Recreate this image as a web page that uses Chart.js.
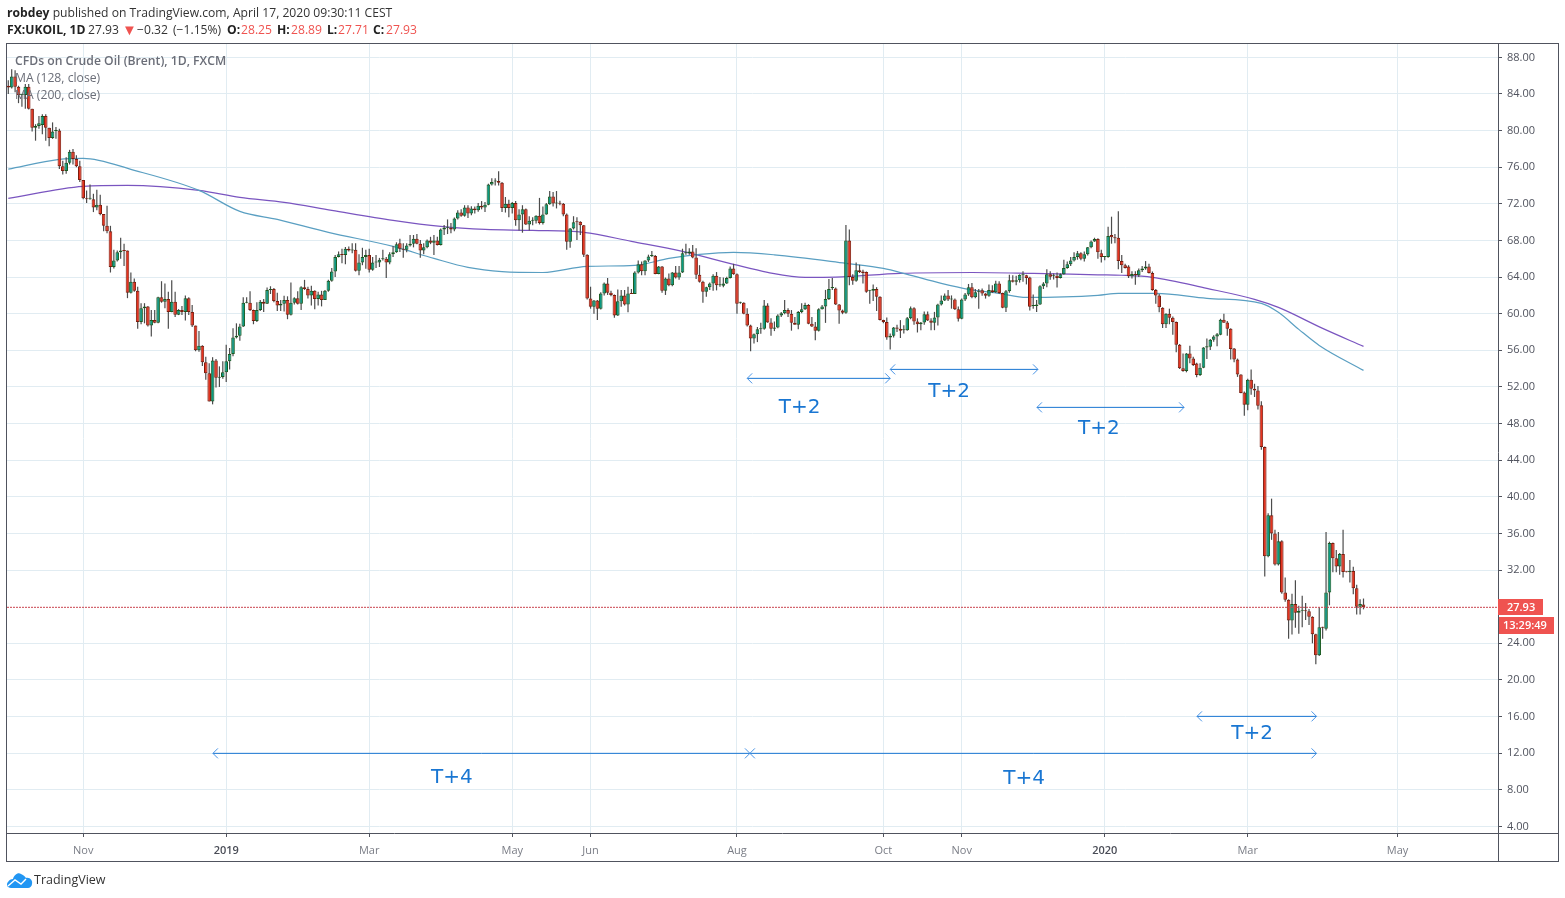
<!DOCTYPE html>
<html>
<head>
<meta charset="utf-8">
<title>UKOIL</title>
<script src="https://cdn.jsdelivr.net/npm/chart.js@4/dist/chart.umd.min.js"></script>
<style>
  html, body { margin: 0; padding: 0; background: #fff; width: 1565px; height: 898px; overflow: hidden; }
  #c { position: absolute; left: 0; top: 0; z-index: 2; }
  .txt { position: absolute; white-space: pre; font-family: "Open Sans", sans-serif; z-index: 3; }
  .head { font-size: 12.15px; color: #333; line-height: 17px; left: 7px; }
  .head b { color: #222; }
  .head span { position: absolute; top: 0; }
  .red { color: #ef5350; }
  .tri { color: #ef5350; font-size: 15px; }
  .leg { font-size: 12.2px; color: #6b6e78; left: 15px; line-height: 17px; }
  #brand { left: 34px; top: 871px; font-size: 12.5px; line-height: 18px; color: #333; }
  #logo { position: absolute; left: 6px; top: 871px; }
</style>
</head>
<body>
<div class="txt head" style="top:4px"><b>robdey</b> published on TradingView.com, April 17, 2020 09:30:11 CEST</div>
<div class="txt head" style="top:21px"><span style="left:0"><b>FX:UKOIL, 1D</b></span><span style="left:81px">27.93</span><span class="tri" style="left:115px">▼</span><span style="left:130px">−0.32</span><span style="left:166px">(−1.15%)</span><span style="left:220px"><b>O:</b></span><span class="red" style="left:234px">28.25</span><span style="left:270px"><b>H:</b></span><span class="red" style="left:284px">28.89</span><span style="left:320px"><b>L:</b></span><span class="red" style="left:331px">27.71</span><span style="left:366px"><b>C:</b></span><span class="red" style="left:379px">27.93</span></div>
<div class="txt leg" style="top:52px;font-weight:600">CFDs on Crude Oil (Brent), 1D, FXCM</div>
<div class="txt leg" style="top:69px">MA (128, close)</div>
<div class="txt leg" style="top:86px">MA (200, close)</div>
<svg id="logo" width="27" height="18" viewBox="0 0 27 18"><path d="M5 17 C1 17 0 13 2 11 C3 9 5 8 7 8 C8 4 12 1 15 3 C18 4 19 6 20 7 C24 6 27 10 26 13 C26 15 24 17 22 17 Z" fill="#2196f3"/><path d="M2 15 L9 9 L15 13 L20 8" fill="none" stroke="#fff" stroke-width="1.4"/></svg>
<div class="txt" id="brand">TradingView</div>
<canvas id="c" width="1565" height="898"></canvas>
<script>
const opens = [
  84.9,84.7,85.9,84.8,83.9,83.9,84.8,82.4,80.3,80.5,
  80.6,81.6,80.3,79.2,79.95,80,76.1,75.6,76.5,77.7,
  76.9,76.1,74.6,72.6,72.55,72.5,71.6,71.9,70.9,69.6,
  69,65.1,65.8,66.7,66.9,66.9,62.3,63.5,62.5,59.1,
  60.6,60.8,58.7,59.3,59,61.8,61.3,61.6,60.2,61.3,
  59.9,60.4,60.2,61.7,60.2,58.7,56,56.5,54.7,53.5,
  50.4,54.9,53,53.1,53.6,54.8,55.6,57.4,57.6,58.6,
  61.2,61.2,60.4,59.2,60.4,61.3,61.1,62.6,62.7,61.4,
  60.9,61.1,61.5,59.9,61.2,61.7,61.1,62.9,62.7,62,
  62.5,61.6,62.1,61.5,62.5,63.6,64.6,66.2,66.5,66.4,
  67.1,66.9,67,64.7,65.6,66.2,66.4,64.8,65.6,65.6,
  65.95,66,65.6,66.5,66.7,67.7,67.1,67,67.45,67.65,
  68.2,67.65,66.9,67.25,68,67.75,68,67.5,69.2,69.4,
  69.4,69.2,70.4,71.05,70.7,71.6,70.95,71.5,71.3,71.8,
  71.6,71.9,74.1,74.45,74.5,74.3,71.55,72,71.55,72.1,
  70.2,70.85,71.4,69.75,70.15,70.15,70.7,69.9,70.85,71.95,
  72.8,72.05,72.05,72,70.85,67.85,69.3,70.05,70.05,69.65,
  66.45,61.65,60.75,61.45,60.55,62.2,63.3,62.3,62.05,59.8,
  61.35,62,61,62.2,62.15,64.5,65.4,64.65,65.8,66.3,
  66.3,64.35,65.15,62.5,63.85,63.1,64.5,63.95,64.5,66.6,
  66.6,66.8,66.15,64.25,63.5,62.4,62.9,63.3,64.15,63.1,
  63.05,63.3,63.9,64.95,64.3,61.2,61.2,60,58.7,57.3,
  57.75,58.3,58.35,60.9,59.05,58.35,58.5,59.8,60.05,60.4,
  60,59,58.8,60.2,60.5,60.95,58.9,58.6,58.15,60.5,
  60.8,61.6,62.8,62.75,61,60.35,60.1,68,64,63.6,
  64.75,64.6,64.55,62.5,62.5,62.7,61.85,59.3,59.1,57.4,
  57.6,58.5,58.35,58.2,58.2,59.5,60.6,59.15,58.85,59.05,
  59.95,59.25,59,59.6,61,61.45,62,61.55,61.55,60.5,
  59.45,61.55,62.1,62.9,61.8,62.4,62.55,62.2,61.95,62.55,
  62.35,63.3,62.25,60.65,62.45,63.65,63.5,63.65,64.2,64.2,
  63.95,60.85,60.85,61,63,63.3,64.3,64.1,64.15,63.9,
  64.3,65,65.4,65.8,66.2,66.6,66,66.5,67.25,67.9,
  68.15,66.6,66.2,66.2,68.6,68.35,68.3,65.75,65.3,65.15,
  64.1,64.35,64.2,64.75,64.95,65.15,64.45,62.6,62,60.65,
  58.85,60,59.55,59.1,56.6,54.05,53.75,55.65,55.1,54.55,
  53.3,54.1,56.3,56.4,57.15,57.5,57.7,59.35,59.05,58.35,
  56.2,55,53.35,51.4,50.05,52.8,51.8,51.6,50,45.45,
  33.5,38,36,32.6,35.15,29.55,28.75,26.5,28.3,27.35,
  27.55,27.6,27.5,26.9,25,22.7,25.75,25.6,29.55,34.95,
  33.3,32.4,33.75,31.8,31.75,31.9,30,28,28.25
];
const highs = [
  85.5,86.7,86.6,84.9,84.0,85.1,85.1,82.4,80.7,81.6,
  81.8,81.8,80.3,80.9,80.4,80.2,76.7,77.1,77.9,78.0,
  77.3,76.7,74.6,73.45,74.1,73.1,73.55,73.0,70.9,71.8,
  69.6,67,66.9,68.3,67.65,66.9,64.5,63.85,62.95,61.15,
  61.15,60.85,60.4,60.4,61.85,63.55,63.3,62.4,63.65,62.4,
  60.5,60.85,62,61.8,60.95,58.7,58.1,56.55,55.3,54.6,
  55.25,55.05,54.25,54.8,56.6,56.25,58.4,58.95,58.9,61.8,
  61.8,62.45,60.45,61.25,61.5,61.6,62.85,63,62.8,62.3,
  61.5,61.95,61.9,63.4,61.8,62.45,63,63.7,62.95,63.05,
  62.55,62.4,62.5,62.6,63.7,65,66.4,66.8,67.1,67.3,
  67.35,67.7,67.7,66.5,67.2,67,67.1,66.2,66.4,66.1,
  67,66.2,66.7,67.4,67.8,68.2,67.7,67.7,68.6,68.6,
  68.7,68.05,67.7,68.1,68.4,68.6,68.4,69.3,69.7,70.3,
  69.9,70.5,71.3,71.4,71.85,71.85,71.75,71.7,72.1,72.3,
  72.2,74.2,74.8,74.8,75.55,74.4,72.75,72.45,72.2,72.3,
  71.4,71.85,71.5,70.65,70.55,70.75,72.65,71.7,72.1,73.4,
  73.3,73.4,72.35,72.1,70.95,69.35,70.65,70.55,70.1,69.7,
  66.5,62.95,61.5,61.5,62.35,63.4,63.9,62.5,62.1,62.65,
  62.6,62.6,62.95,62.7,64.65,65.8,65.7,65.85,66.45,66.85,
  66.4,65.2,65.2,63.95,64.4,64.55,65.2,65.2,67.1,67.65,
  67.15,67.5,67.15,65.3,63.6,62.95,63.4,64.3,64.55,64,
  63.95,64.05,65.15,65.45,64.4,61.3,61.25,60.6,58.8,57.85,
  58.55,59,61.5,61.15,59.5,59.15,59.95,60.2,61.5,60.6,
  60.4,59.65,60.3,61.15,61.2,61.05,59.65,59.1,60.6,60.95,
  62.6,63.8,63.9,62.85,61.05,60.45,69.7,69.2,64.3,65.6,
  65.35,64.8,64.6,62.6,63.2,62.9,61.9,59.35,59.6,57.85,
  58.55,58.8,59.3,58.75,59.65,60.8,60.7,59.5,59.1,60.25,
  60.25,59.5,60.2,61.1,62,62.2,62.6,62,61.65,60.8,
  61.65,62.25,63.25,63.35,62.7,62.7,62.75,62.25,63.2,63.1,
  63.6,63.55,62.3,62.6,64.25,64.2,64.15,64.3,64.65,64.25,
  64.05,62.1,61.5,63.1,63.45,64.85,64.65,64.4,64.5,64.4,
  65.9,65.7,66.2,66.7,66.85,66.7,66.8,67.3,68,68.3,
  68.25,67,66.25,69.5,70.6,68.7,71.2,66.4,65.45,65.3,
  64.65,64.65,64.95,65.2,65.75,65.45,64.6,62.7,62.15,60.7,
  60.05,60.55,59.7,59.15,56.7,55.65,55.7,56.5,55.3,54.65,
  54.6,56.35,57.3,57.25,57.65,57.9,59.45,60,59.2,58.4,
  56.25,55.1,53.4,51.5,52.9,53.9,52.35,52.1,50.45,45.5,
  38.2,39.8,36.4,36.15,35.25,31.2,28.8,29.4,30.9,28.1,
  29.2,28.4,27.75,26.95,25.05,27.9,25.8,36.15,35.1,35,
  34.2,33.85,36.4,31.85,33.1,32.35,30.4,28.8,28.89
];
const lows = [
  84.0,84.6,84.2,83.0,82.6,82.4,82.3,79.9,78.9,80.2,
  79.6,78.9,78.3,79.1,79.1,75.8,75.2,75.3,76.3,76.3,
  76.0,74.4,72.5,72.1,72.45,71.1,71.3,70.75,69.0,68.8,
  64.5,64.95,65.7,66,65.2,61.7,62.2,62.4,58.35,58.85,
  58.95,58.6,57.5,58.95,58.95,61.2,60.6,58.35,60.15,59.65,
  59.85,59.85,59.25,59.85,58.55,55.9,55.85,54.3,52.8,50.4,
  50.1,51.95,52,52.9,52.55,53.9,55.35,57.3,57.05,58.55,
  61.15,60.3,58.85,59.1,60.3,60.2,61.05,62.15,61.25,60.3,
  60.3,60.25,59.4,59.8,61,61,60.4,62.6,61.65,60.9,
  60.5,60.9,60.8,61.5,62.4,63.5,64,66.15,65.5,65.4,
  66.8,66.6,64.6,64.2,65.3,64.9,64.5,64.7,65,65.1,
  65.8,63.9,65.4,66.2,66.65,66.75,66.1,66.7,67.35,67.25,
  67.6,66.1,66.5,67.15,67.6,66.4,67.45,67.45,68.6,68.7,
  68.8,69,70.3,70.6,70.6,70.45,70.75,70.95,71.15,71.4,
  71.1,71.85,74,74,74,71.1,71.05,70.55,70.95,69.6,
  69.1,68.85,69.7,69.1,69.65,69.85,69.75,69.75,70.8,71.9,
  71.7,71.5,71.85,70.65,67,67.2,69.2,68.05,68.6,66.2,
  61.55,60.55,60,59.3,60.45,62,62.05,61.9,59.55,59.75,
  60.75,60.9,60.15,62.15,62.15,64.4,64.2,64.2,65.65,66.2,
  64.3,64.3,62.3,62.05,63,63,63.85,63.7,64.45,66.45,
  66.45,66.05,63.8,63.4,61.2,61.85,62.6,62.5,62.55,62.95,
  62.9,63.25,63.85,64.25,60,61.1,59.95,58.6,55.9,56.75,
  56.9,57.8,58.25,59,57.6,58.1,58.4,59.65,59.95,59.65,
  58.15,58.8,58.3,60.05,60.4,58.85,58.55,57.1,58.05,60.45,
  59,61.5,62.6,60.95,58.9,59.95,60,63.1,63.15,63.5,
  64.45,63.3,62.3,61.1,61.4,60.3,59.25,58.95,57.15,56.1,
  57.4,58,57.35,57.85,58.15,59.4,58.8,57.95,58.2,58.8,
  59.2,58.2,58.2,58.7,60.9,61.4,61.4,60.55,60.4,59.15,
  59.4,61.4,61.95,61.7,61.7,60.55,61.95,61.65,61.85,62.25,
  62.25,62.15,60.6,60.2,62.3,63.4,63.1,63.4,63.5,63.2,
  60.35,60.55,60.2,60.95,62.7,62.9,63.7,63.75,62.85,63.85,
  64.25,64.9,65.2,65.7,65.9,65.85,65.7,66.35,67.15,67.85,
  66,65.6,65.85,66.1,67.65,67.7,64.85,64.45,64.95,63.9,
  63.85,63.15,64,64.55,64.8,64.4,62.5,61.1,60.15,58.45,
  58.45,58.85,57.7,55.8,53.95,53.65,53.6,54.6,54.3,53.05,
  53.2,54.05,55.05,56.05,56.95,56.45,57.65,59,57.6,55,
  54.7,53.1,51.3,48.85,49.45,51.15,50.9,49.55,45.15,31.3,
  33.4,35.3,32.5,32.5,29.4,28.55,24.5,24.95,25.7,25.05,
  25.75,26.55,26,24,21.7,22.6,24.5,25.4,28.15,31.75,
  31.75,31.5,31.2,31.75,30.65,29.35,27.15,27.15,27.71
];
const closes = [
  84.7,85.9,84.8,83.9,83.9,84.8,82.4,80.3,80.5,80.8,
  81.6,80.3,79.2,79.9,80,76.1,75.6,76.5,77.7,76.9,
  76.1,74.6,72.6,72.5,72.6,71.6,71.9,70.9,69.6,69,
  65.1,65.8,66.7,66.9,66.85,62.3,63.5,62.5,59.1,60.6,
  60.8,58.7,59.3,59,61.8,61.3,61.6,60.2,61.3,59.9,
  60.4,60.2,61.7,60.2,58.7,56,56.5,54.7,53.5,50.4,
  54.9,53,53.1,53.6,54.8,55.6,57.4,57.6,58.6,61.2,
  61.2,60.4,59.2,60.4,61.3,61.1,62.6,62.7,61.4,60.9,
  61.1,61.5,59.9,61.2,61.7,61.1,62.9,62.7,62,62.5,
  61.6,62.1,61.5,62.5,63.6,64.6,66.2,66.5,66.4,67.1,
  66.9,67,64.7,65.6,66.2,66.4,64.8,65.6,65.6,65.9,
  66,65.6,66.5,66.7,67.6,67.1,67,67.45,67.65,68.2,
  67.65,66.9,67.25,68,67.75,68,67.5,69.2,69.4,69.4,
  69.2,70.4,71.05,70.7,71.6,70.95,71.5,71.3,71.8,71.6,
  71.9,74.1,74.4,74.5,74.3,71.55,72,71.55,72.1,70.2,
  70.85,71.4,69.75,70.15,70.15,70.7,69.9,70.85,71.95,72.8,
  72.05,72.05,72,70.85,67.85,69.3,70,70,69.65,66.45,
  61.65,60.75,61.45,60.55,62.2,63.3,62.3,62.05,59.8,61.35,
  62,61,62.2,62.15,64.5,65.4,64.65,65.8,66.25,66.3,
  64.35,65.15,62.5,63.85,63.1,64.5,63.95,64.5,66.6,66.65,
  66.8,66.15,64.25,63.5,62.4,62.9,63.3,64.15,63.1,63.1,
  63.3,63.9,64.95,64.3,61.1,61.2,60,58.7,57.3,57.75,
  58.3,58.35,60.9,59.05,58.35,58.5,59.8,60.05,60.4,60,
  59,58.8,60.2,60.5,60.95,58.9,58.6,58.15,60.5,60.8,
  61.6,62.7,62.8,61,60.35,60.1,68,64,63.6,64.75,
  64.55,64.45,62.4,62.5,62.7,61.85,59.3,59.1,57.4,57.6,
  58.5,58.35,58.15,58.25,59.5,60.6,59.15,58.85,59.05,59.95,
  59.25,59,59.6,61,61.45,62,61.55,61.55,60.5,59.45,
  61.55,62.1,62.9,61.8,62.35,62.45,62.2,61.95,62.6,62.35,
  63.3,62.25,60.65,62.45,63.65,63.5,63.65,64.25,64.2,63.9,
  60.75,60.85,61,63,63.3,64.3,64.05,64.1,63.9,64.3,
  65,65.4,65.8,66.2,66.6,66,66.5,67.25,67.9,68.15,
  66.7,66.2,66.2,68.5,68.35,68.25,65.75,65.3,65,64.1,
  64.35,64.2,64.75,64.95,65.15,64.45,62.6,62,60.7,58.85,
  60,59.55,59.1,56.6,54.05,53.75,55.65,55.1,54.4,53.3,
  54.1,56.3,56.45,57.15,57.5,57.75,59.35,59,58.35,56.15,
  55,53.35,51.35,50.05,52.8,51.8,51.6,49.95,45.45,33.5,
  38,36,32.6,35.15,29.55,28.75,26.5,28.3,27.35,27.55,
  27.6,27.5,26.9,25,22.7,25.75,25.7,29.55,34.95,33.3,
  32.4,33.75,31.8,31.75,31.9,30,28,28.3,27.93
];

const ma128Bars = [0,15,22,37,56,68,79,94,113,125,135,145,157,170,184,194,203,213,225,246,257,264,274,282,291,299,320,326,337,352,368,373,379,385,398];
const ma128Values = [75.8,76.86,76.97,75.66,73.47,71.18,70.3,68.88,67.35,66.04,65.06,64.6,64.5,65.17,65.28,66.04,66.48,66.7,66.43,65.5,64.95,64.3,63.31,62.66,62.22,61.78,62,62.22,62.22,61.68,61.13,60.15,58.29,56.54,53.81];
const ma200Bars = [0,22,35,56,68,81,95,113,127,140,154,169,183,198,213,223,234,243,262,283,301,320,327,336,352,366,373,386,398];
const ma200Values = [72.6,73.91,74.02,73.47,72.71,72.16,71.29,70.2,69.54,69.21,69.1,68.88,67.9,66.81,65.39,64.52,63.97,64,64.4,64.5,64.4,64.25,64.2,63.97,62.77,61.57,60.69,58.4,56.43];

const priceTicks = [4,8,12,16,20,24,32,36,40,44,48,52,56,60,64,68,72,76,80,84,88];
const monthTicks = [22,64,106,148,171,214,257,280,322,364,408];
const monthLabels = ['Nov','2019','Mar','May','Jun','Aug','Oct','Nov','2020','Mar','May'];

const arrowStarts = [217,259,302.1,349.1,60.1,217.8];
const arrowEnds = [259,302.4,345.3,384.2,217.8,384.2];
const arrowPrices = [52.94,53.92,49.77,16.02,11.98,11.98];
const noteLabels = ['T+2','T+2','T+2','T+2','T+4','T+4'];
const noteBars = [232.4,276.3,320.3,365.3,130.3,298.3];
const notePrices = [49.75,51.5,47.45,14.14,9.33,9.22];

const barRange = [-0.38, 437.5];
const priceRange = [3.28, 89.46];
const lastPrice = closes[closes.length - 1];
const countdown = '13:29:49';

const FONT = '"Open Sans", sans-serif';
const AXIS = '#50535e';
const BLUE = '#1976d2';

const toPoints = (xs, ys) => xs.map((x, i) => ({ x: x, y: ys[i] }));
const isUp = i => closes[i] >= opens[i];
const isYear = c => !!c.tick && /^20/.test(c.tick.label);

const arrowDatasets = arrowStarts.map((start, i) => ({
    type: 'line',
    data: [{ x: start, y: arrowPrices[i] }, { x: arrowEnds[i], y: arrowPrices[i] }],
    borderColor: BLUE,
    borderWidth: 1,
    pointRadius: 0,
    order: 0
}));

// chevrons, arrow notes, frame and the price tags
const overlayPlugin = {
    id: 'overlay',
    afterDatasetsDraw(chart) {
        const { ctx, scales: { x, y } } = chart;
        ctx.save();
        ctx.strokeStyle = '#4a94e6';
        ctx.lineWidth = 1;
        arrowStarts.forEach((start, i) => {
            const py = y.getPixelForValue(arrowPrices[i]);
            [[x.getPixelForValue(start), 5], [x.getPixelForValue(arrowEnds[i]), -5]].forEach(([px, d]) => {
                ctx.beginPath();
                ctx.moveTo(px + d, py - 5);
                ctx.lineTo(px, py);
                ctx.lineTo(px + d, py + 5);
                ctx.stroke();
            });
        });
        ctx.fillStyle = BLUE;
        ctx.font = '20px "DejaVu Sans"';
        ctx.textAlign = 'center';
        ctx.textBaseline = 'middle';
        noteLabels.forEach((label, i) => {
            ctx.fillText(label, x.getPixelForValue(noteBars[i]), y.getPixelForValue(notePrices[i]));
        });
        ctx.restore();
    },
    afterDraw(chart) {
        const { ctx, chartArea: a, scales: { y } } = chart;
        ctx.save();
        ctx.strokeStyle = AXIS;
        ctx.lineWidth = 1;
        ctx.strokeRect(6.5, 43.5, 1552, 818);
        ctx.beginPath();
        ctx.moveTo(6.5, a.bottom + 0.5);
        ctx.lineTo(1558.5, a.bottom + 0.5);
        ctx.moveTo(a.right + 0.5, 43.5);
        ctx.lineTo(a.right + 0.5, 861.5);
        ctx.stroke();

        const py = Math.round(y.getPixelForValue(lastPrice));
        ctx.fillStyle = '#ef5350';
        ctx.fillRect(a.right, py - 8, 45, 16);
        ctx.fillRect(a.right + 1, py + 10, 55, 17);
        ctx.fillStyle = '#fff';
        ctx.font = '600 11px ' + FONT;
        ctx.textBaseline = 'middle';
        ctx.textAlign = 'left';
        ctx.fillText(lastPrice.toFixed(2), a.right + 9, py + 0.5);
        ctx.fillText(countdown, a.right + 5, py + 18.5);
        ctx.restore();
    }
};

new Chart(document.getElementById('c'), {
    data: {
        datasets: [
            ...arrowDatasets,
            {
                type: 'bar',
                data: opens.map((o, i) => ({ x: i, y: [o, closes[i]] })),
                backgroundColor: c => isUp(c.dataIndex) ? '#0a9a82' : '#e5331f',
                borderColor: c => isUp(c.dataIndex) ? '#1a5a20' : '#7d1d0f',
                borderWidth: 1,
                borderSkipped: false,
                barThickness: 3.6,
                minBarLength: 1,
                inflateAmount: 0,
                grouped: false,
                order: 1
            },
            {
                type: 'bar',
                data: lows.map((l, i) => ({ x: i, y: [l, highs[i]] })),
                backgroundColor: '#4c4c4c',
                barThickness: 1.2,
                inflateAmount: 0,
                grouped: false,
                order: 2
            },
            {
                type: 'line',
                data: toPoints(ma128Bars, ma128Values),
                borderColor: '#5a9fc2',
                borderWidth: 1.2,
                pointRadius: 0,
                cubicInterpolationMode: 'monotone',
                order: 3
            },
            {
                type: 'line',
                data: toPoints(ma200Bars, ma200Values),
                borderColor: '#7a55c0',
                borderWidth: 1.2,
                pointRadius: 0,
                cubicInterpolationMode: 'monotone',
                order: 3
            },
            {
                type: 'line',
                data: [{ x: barRange[0], y: lastPrice }, { x: barRange[1], y: lastPrice }],
                borderColor: '#c9444f',
                borderWidth: 1,
                borderDash: [2, 1],
                pointRadius: 0,
                order: 0
            }
        ]
    },
    options: {
        responsive: false,
        animation: false,
        layout: { padding: { left: 7, right: 7, top: 44, bottom: 37 } },
        plugins: { legend: { display: false }, tooltip: { enabled: false } },
        scales: {
            x: {
                type: 'linear',
                min: barRange[0],
                max: barRange[1],
                offset: false,
                afterBuildTicks: s => { s.ticks = monthTicks.map(v => ({ value: v })); },
                afterFit: s => { s.height = 28; },
                grid: { color: '#e1ecf2', tickColor: AXIS, tickLength: 4, offset: false },
                border: { display: false },
                ticks: {
                    autoSkip: false,
                    maxRotation: 0,
                    padding: 7,
                    color: c => isYear(c) ? '#4a4d57' : '#7a7d86',
                    font: c => ({ family: FONT, size: 11, weight: isYear(c) ? '600' : '400' }),
                    callback: v => monthLabels[monthTicks.indexOf(v)]
                }
            },
            y: {
                type: 'linear',
                position: 'right',
                min: priceRange[0],
                max: priceRange[1],
                afterBuildTicks: s => { s.ticks = priceTicks.map(v => ({ value: v })); },
                afterFit: s => { s.width = 60; },
                grid: { color: '#e1ecf2', tickColor: AXIS, tickLength: 4 },
                border: { display: false },
                ticks: {
                    padding: 5,
                    color: AXIS,
                    font: { family: FONT, size: 11 },
                    callback: v => v.toFixed(2)
                }
            }
        }
    },
    plugins: [overlayPlugin]
});
</script>
</body>
</html>
